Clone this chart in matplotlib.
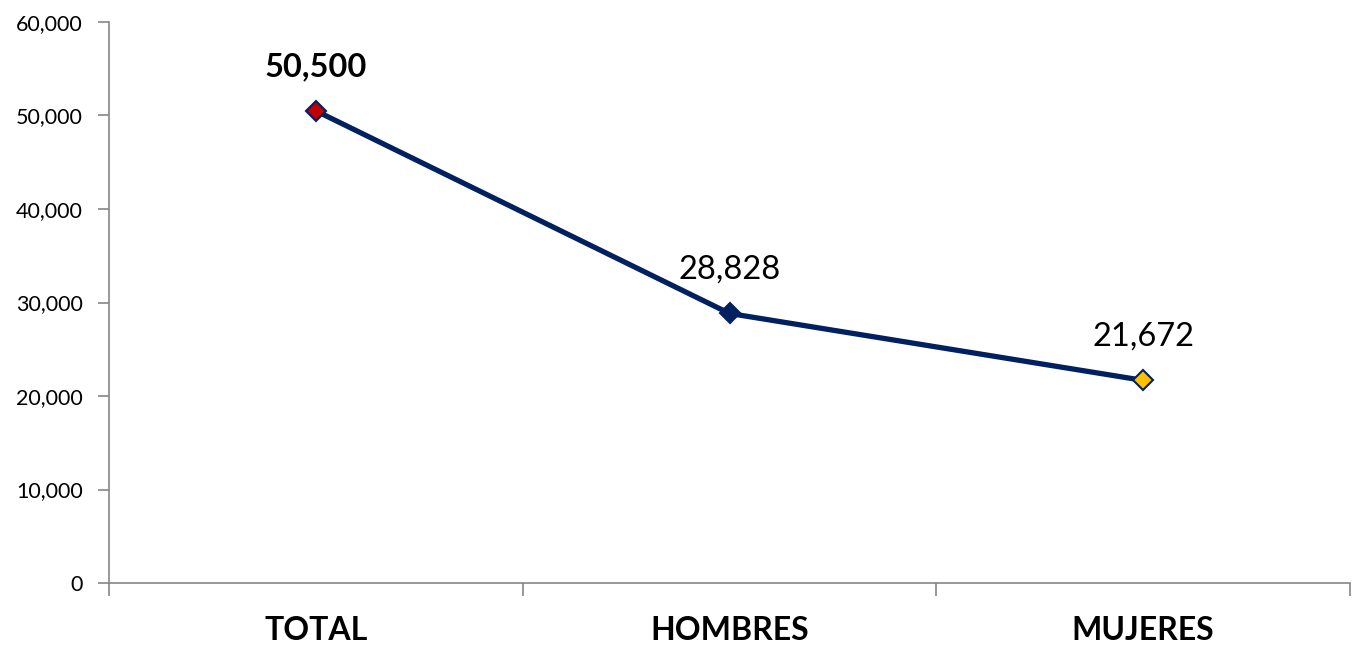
import matplotlib
matplotlib.use("Agg")
import matplotlib.pyplot as plt
from matplotlib.ticker import FuncFormatter, FixedLocator

categories = ["TOTAL", "HOMBRES", "MUJERES"]
values = [50500, 28828, 21672]
label_texts = ["50,500", "28,828", "21,672"]
label_bold = [True, False, False]
marker_colors = ["#C00000", "#002060", "#FFC000"]
yticks = [0, 10000, 20000, 30000, 40000, 50000, 60000]

plt.rcParams['font.family'] = ['Lato', 'DejaVu Sans']

fig = plt.figure(figsize=(13.52, 6.46), dpi=100)
ax = fig.add_axes([109/1352, 1 - 583/646, (1350 - 109)/1352, (583 - 22)/646])

x = list(range(len(categories)))
ax.plot(x, values, color="#002060", linewidth=3.8, zorder=2)
for xi, v, c in zip(x, values, marker_colors):
    ax.plot([xi], [v], marker="D", markersize=10, markerfacecolor=c,
            markeredgecolor="#002060", markeredgewidth=1.5, linestyle="none", zorder=3)

for xi, v, t, b in zip(x, values, label_texts, label_bold):
    ax.annotate(t, (xi, v), xytext=(0, 21), textcoords="offset points",
                ha="center", va="bottom", fontsize=23.5,
                fontweight="bold" if b else "normal", color="black")

ax.set_xlim(-0.5, 2.5)
ax.set_ylim(0, 60000)
ax.set_yticks(yticks)
ax.yaxis.set_major_formatter(FuncFormatter(lambda v, p: f"{int(v):,}"))
ax.set_xticks(x)
ax.set_xticklabels(categories, fontsize=23, fontweight="bold")
ax.xaxis.set_minor_locator(FixedLocator([-0.5, 0.5, 1.5, 2.5]))
ax.tick_params(axis="x", which="major", length=0, pad=24)
ax.tick_params(axis="x", which="minor", length=9, width=1.2, color="#868686", direction="out")
ax.tick_params(axis="y", length=8, width=1.2, color="#868686", labelsize=15.5, pad=11)

for s in ["top", "right"]:
    ax.spines[s].set_visible(False)
for s in ["left", "bottom"]:
    ax.spines[s].set_color("#868686")
    ax.spines[s].set_linewidth(1.2)

fig.savefig("out.png", dpi=100)
